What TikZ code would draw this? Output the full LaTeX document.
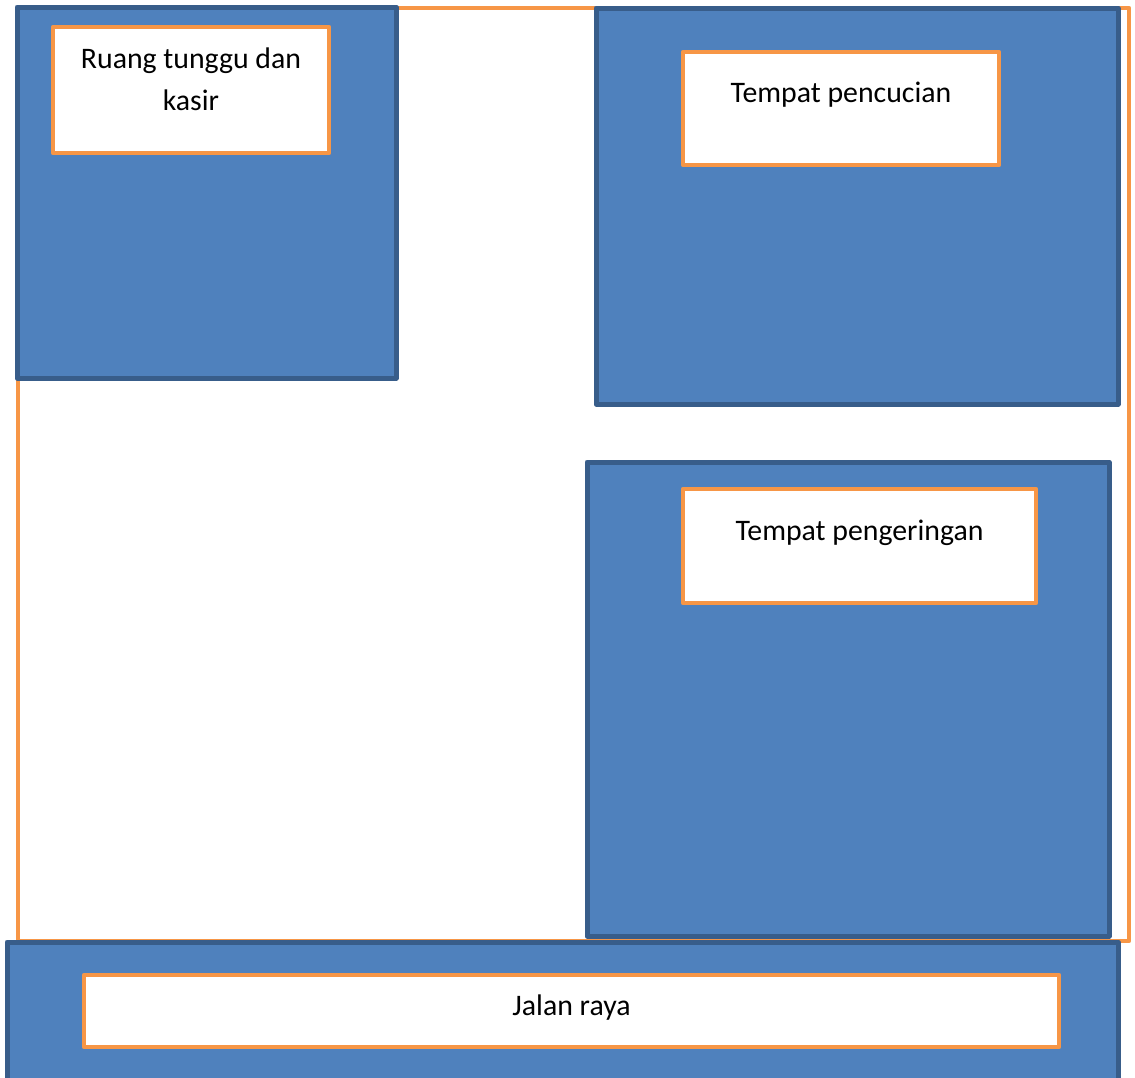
\documentclass[tikz,border=0pt]{standalone}
\usepackage{fontspec}
\setmainfont{Carlito}
\definecolor{bfill}{HTML}{4F81BD}
\definecolor{bdraw}{HTML}{385D8A}
\definecolor{orng}{HTML}{F79646}
\begin{document}
\begin{tikzpicture}[x=1pt,y=-1pt,
  bluebox/.style={draw=bdraw,fill=bfill,line width=5pt,line join=round,rectangle,inner sep=0pt,outer sep=0pt},
  labelbox/.style={draw=orng,fill=white,line width=4.5pt,line join=round,rectangle,inner sep=0pt,outer sep=0pt},
  lbl/.style={font=\fontsize{29.8}{42}\selectfont,anchor=base,inner sep=0pt,text=black}]
\useasboundingbox (0,0) rectangle (1135,1077);
% outer boundary
\draw[orng,line width=4.5pt,line join=round] (18,8) rectangle (1129,941);
% rooms
\node[bluebox,minimum width=379pt,minimum height=371pt] (r1) at (206.5,192.5) {};
\node[labelbox,minimum width=276pt,minimum height=126pt] (l1) at (191,90) {};
\node[lbl] (t1a) at (191,68) {Ruang tunggu dan};
\node[lbl] (t1b) at (191,110) {kasir};
\node[bluebox,minimum width=522pt,minimum height=396pt] (r2) at (857,206) {};
\node[labelbox,minimum width=316pt,minimum height=113pt] (l2) at (841,108.5) {};
\node[lbl] (t2) at (841,102) {Tempat pencucian};
\node[bluebox,minimum width=522pt,minimum height=474pt] (r3) at (848,699) {};
\node[labelbox,minimum width=353pt,minimum height=114pt] (l3) at (859.5,546) {};
\node[lbl] (t3) at (859.5,540) {Tempat pengeringan};
\node[bluebox,minimum width=1111pt,minimum height=158pt] (r4) at (562.5,1021) {};
\node[labelbox,minimum width=975pt,minimum height=72pt] (l4) at (571.5,1011) {};
\node[lbl] (t4) at (571.5,1015) {Jalan raya};
\end{tikzpicture}
\end{document}
